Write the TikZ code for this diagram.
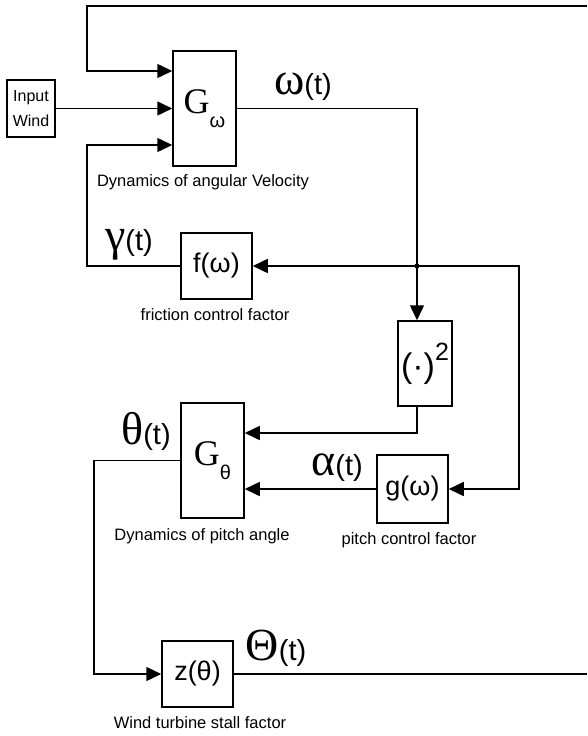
\documentclass[tikz,border=0pt]{standalone}
\usepackage{fontspec}
\setmainfont{Liberation Sans}
\newfontfamily\greekfont{Liberation Serif}
\usetikzlibrary{arrows.meta,positioning,calc}
\tikzset{
  block/.style    = {draw, line width=1.5pt, rectangle, inner sep=0pt,
                     align=center, font=\fontsize{27}{27}\selectfont},
  caption/.style  = {inner sep=0pt, font=\fontsize{16.5}{18}\selectfont},
  siglabel/.style = {inner sep=0pt, font=\fontsize{29}{29}\selectfont},
  wire/.style     = {line width=1.5pt},
  sig/.style      = {-{Triangle[length=15pt,width=14pt]}, line width=1.5pt},
}
\newcommand{\gk}[1]{{\greekfont\fontsize{46}{46}\selectfont #1}}
\newcommand{\Gsub}[1]{{\greekfont\fontsize{36}{36}\selectfont G}\raisebox{-14pt}{\fontsize{20}{20}\selectfont #1}}

\begin{document}
\begin{tikzpicture}[x=1pt,y=-1pt]
\useasboundingbox (0,0) rectangle (587,736);
% blocks
\node[block,minimum width=48pt,minimum height=57pt,font=\fontsize{16}{25}\selectfont] (wind) at (31,108.5) {Input\\Wind};
\node[block,minimum width=63pt,minimum height=115pt] (Gw) at (204.5,108.5) {\Gsub{ω}};
\node[block,minimum width=71pt,minimum height=66pt] (f) at (216.5,266) {f(ω)};
\node[block,minimum width=54pt,minimum height=85pt] (sq) at (425,363.5) {{\fontsize{34}{34}\selectfont (·)}\raisebox{17pt}{\fontsize{25}{25}\selectfont 2}};
\node[block,minimum width=63pt,minimum height=115pt] (Gt) at (212.5,460.5) {\Gsub{θ}};
\node[block,minimum width=71pt,minimum height=68pt] (g) at (412.5,489) {g(ω)};
\node[block,minimum width=71pt,minimum height=66pt] (z) at (197.5,674) {z(θ)};
% captions
\node[caption] (capGw) at (203,182) {Dynamics of angular Velocity};
\node[caption] (capf) at (215,315) {friction control factor};
\node[caption] (capGt) at (202,536) {Dynamics of pitch angle};
\node[caption] (capg) at (409,540) {pitch control factor};
\node[caption] (capz) at (200,723) {Wind turbine stall factor};
% signal labels
\node[siglabel] (lw) at (303,87) {\gk{ω}(t)};
\node[siglabel] (lgam) at (129,245) {\gk{γ}(t)};
\node[siglabel] (lth) at (146,431) {\gk{θ}(t)};
\node[siglabel] (lal) at (337,468) {\gk{α}(t)};
\node[siglabel] (lTh) at (276,648) {\gk{Θ}(t)};
% bend points
\coordinate (edgeTop) at (587,6);
\coordinate (edgeBot) at (587,674);
\coordinate (tl) at (87,6);
\coordinate (fl) at (87,266);
\coordinate (j) at (417,266);
\coordinate (jr) at (519,266);
\coordinate (sqo) at (417,433);
\coordinate (tb) at (94,460.5);
\coordinate (in1) at ($(Gw.west)+(0,-37.5)$);
\coordinate (in3) at ($(Gw.west)+(0,36.5)$);
% connectors
\draw[sig] (edgeTop) -- (tl) |- (in1);
\draw[sig] (wind) -- (Gw);
\draw[sig] (f.west) -- (fl) |- (in3);
\draw[wire] (Gw.east) -| (j);
\draw[sig] (j) -- (j |- sq.north);
\draw[sig] (j) -- (f.east);
\draw[sig] (j) -- (jr) |- (g.east);
\fill (j) circle (2.5pt);
\draw[sig] (sq.south -| j) -- (sqo) -- (sqo -| Gt.east);
\draw[sig] (g.west) -- (g.west -| Gt.east);
\draw[sig] (Gt.west) -- (tb) |- (z.west);
\draw[wire] (z.east) -- (edgeBot);
\end{tikzpicture}
\end{document}
